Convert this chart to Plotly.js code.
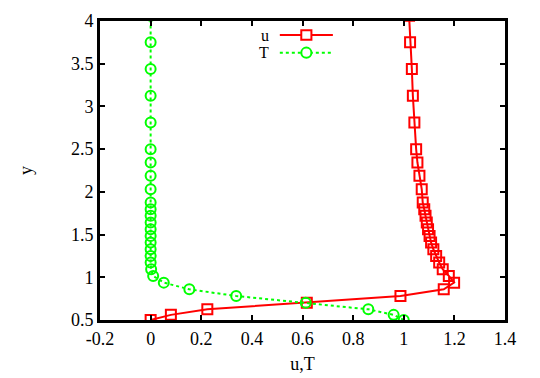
<!DOCTYPE html>
<html>
<head>
<meta charset="utf-8">
<script src="https://cdn.plot.ly/plotly-3.0.1.min.js"></script>
<style>
  html, body { margin: 0; padding: 0; background: #fff; }
  #plot { width: 540px; height: 378px; }
</style>
</head>
<body>
<div id="plot"></div>
<script>
// grid points in y (shared by both profiles)
const yGrid = [0.5, 0.56, 0.625, 0.703, 0.781, 0.859, 0.9375, 1.016, 1.094, 1.172,
  1.25, 1.328, 1.406, 1.484, 1.5625, 1.641, 1.719, 1.797, 1.875, 2.031,
  2.1875, 2.344, 2.5, 2.8125, 3.125, 3.4375, 3.75, 4.0625];

const uVals = [0, 0.08, 0.224, 0.617, 0.987, 1.158, 1.199, 1.178, 1.154, 1.140,
  1.128, 1.117, 1.108, 1.102, 1.096, 1.091, 1.086, 1.081, 1.075, 1.071,
  1.062, 1.054, 1.049, 1.042, 1.036, 1.032, 1.025, 1.021];

const tVals = [1.0, 0.96, 0.86, 0.613, 0.338, 0.153, 0.052, 0.010, 0.002, 0.0,
  0, 0, 0, 0, 0, 0, 0, 0, 0, 0,
  0, 0, 0, 0, 0, 0, 0, 0];

const xTicks = [-0.2, 0, 0.2, 0.4, 0.6, 0.8, 1, 1.2, 1.4];
const yTicks = [0.5, 1, 1.5, 2, 2.5, 3, 3.5, 4];

const red = "#ff0000";
const green = "#00ff00";
const font = { family: "Liberation Serif, Times New Roman, serif", size: 18, color: "#000" };
const legFont = Object.assign({}, font, { size: 16 });

const traces = [
  {
    x: uVals, y: yGrid, name: "u", mode: "lines+markers", showlegend: false,
    line: { color: red, width: 2 },
    marker: { symbol: "square-open", size: 10, color: red, line: { width: 2, color: red } }
  },
  {
    x: tVals, y: yGrid, name: "T", mode: "lines+markers", showlegend: false,
    line: { color: green, width: 2, dash: "dot" },
    marker: { symbol: "circle-open", size: 10, color: green, line: { width: 2, color: green } }
  }
];

const axisCommon = {
  showline: true, linewidth: 3, linecolor: "#000", mirror: "ticks",
  ticks: "inside", ticklen: 5, tickwidth: 2, tickcolor: "#000",
  showgrid: false, zeroline: false, tickfont: font
};

// legend drawn gnuplot-style: label, then sample line with marker
const legY = [0.953, 0.894];
const legend = {
  shapes: [
    { type: "line", xref: "paper", yref: "paper", x0: 0.444, x1: 0.575, y0: legY[0], y1: legY[0],
      line: { color: red, width: 2 } },
    { type: "rect", xref: "paper", yref: "paper", x0: 0.497, x1: 0.522, y0: legY[0] - 0.016, y1: legY[0] + 0.016,
      fillcolor: "#fff", line: { color: red, width: 2 } },
    { type: "line", xref: "paper", yref: "paper", x0: 0.444, x1: 0.575, y0: legY[1], y1: legY[1],
      line: { color: green, width: 2, dash: "dot" } },
    { type: "circle", xref: "paper", yref: "paper", x0: 0.497, x1: 0.522, y0: legY[1] - 0.017, y1: legY[1] + 0.017,
      fillcolor: "#fff", line: { color: green, width: 2 } }
  ],
  annotations: [
    { text: "u", xref: "paper", yref: "paper", x: 0.42, y: legY[0], xanchor: "right", yanchor: "middle",
      showarrow: false, font: legFont, borderpad: 0 },
    { text: "T", xref: "paper", yref: "paper", x: 0.42, y: legY[1], xanchor: "right", yanchor: "middle",
      showarrow: false, font: legFont, borderpad: 0 }
  ]
};

const layout = {
  width: 540, height: 378,
  margin: { l: 100, r: 35, t: 21, b: 58 },
  paper_bgcolor: "#fff", plot_bgcolor: "#fff",
  font: font,
  xaxis: Object.assign({}, axisCommon, {
    range: [-0.2, 1.4], tickvals: xTicks, ticktext: xTicks.map(String),
    title: { text: "u,T", font: font, standoff: 10 }
  }),
  yaxis: Object.assign({}, axisCommon, {
    range: [0.5, 4], tickvals: yTicks, ticktext: yTicks.map(String),
    title: { text: "y", font: font, standoff: 34 }
  }),
  shapes: legend.shapes,
  annotations: legend.annotations
};

Plotly.newPlot("plot", traces, layout, { displayModeBar: false, staticPlot: true });
</script>
</body>
</html>
